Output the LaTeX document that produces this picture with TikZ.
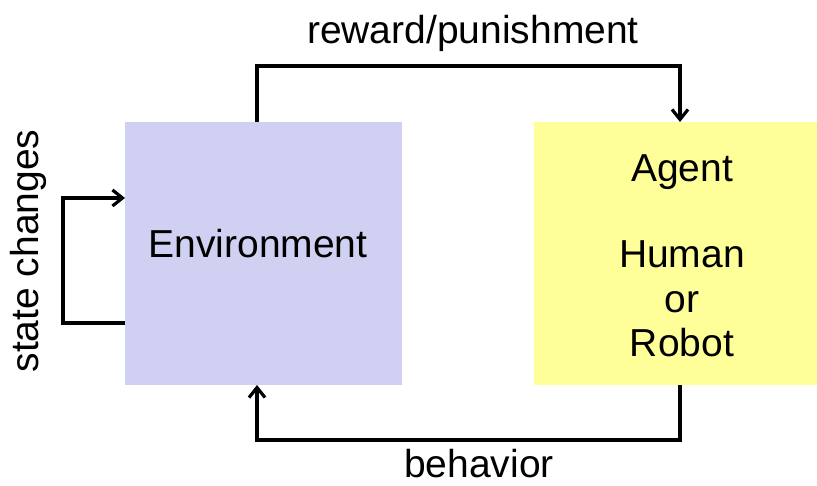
\documentclass[tikz,border=0pt]{standalone}
\usepackage{fontspec}
\setmainfont{Liberation Sans}
\usetikzlibrary{arrows.meta}
\definecolor{envcol}{RGB}{208,208,242}
\definecolor{agentcol}{RGB}{255,255,153}
\begin{document}
\begin{tikzpicture}[x=1pt,y=-1pt,
  lbl/.style={font=\fontsize{39}{45}\selectfont, inner sep=0pt},
  conn/.style={line width=3.2pt, -{Straight Barb[length=10pt,width=16pt,line width=3.2pt]}, line join=miter}]
\useasboundingbox (0,0) rectangle (817,486);
\fill[white] (0,0) rectangle (817,486);
\node[fill=envcol, minimum width=277pt, minimum height=263pt, inner sep=0pt, anchor=north west] (env) at (125,122) {};
\node[fill=agentcol, minimum width=283pt, minimum height=263pt, inner sep=0pt, anchor=north west] (agent) at (534,122) {};
\node[lbl, anchor=base] (envt) at (258,258) {Environment};
\node[lbl, anchor=base] (agt) at (682,182) {Agent};
\node[lbl, anchor=base] (hum) at (682,268) {Human};
\node[lbl, anchor=base] (or) at (682,313) {or};
\node[lbl, anchor=base] (rob) at (682,357) {Robot};
\node[lbl, anchor=base] (rew) at (473,44) {reward/punishment};
\node[lbl, anchor=base] (beh) at (479,477) {behavior};
\node[lbl, anchor=base, rotate=90] (sc) at (38,251) {state changes};
\coordinate (a1) at (257,122);
\coordinate (a2) at (680,122);
\coordinate (b1) at (680,385);
\coordinate (b2) at (257,385);
\coordinate (c1) at (125,323);
\coordinate (c2) at (125,198);
\draw[conn] (a1) |- (680,66) -- (a2);
\draw[conn] (b1) |- (257,440) -- (b2);
\draw[conn] (c1) -| (63,198) -- (c2);
\end{tikzpicture}
\end{document}
